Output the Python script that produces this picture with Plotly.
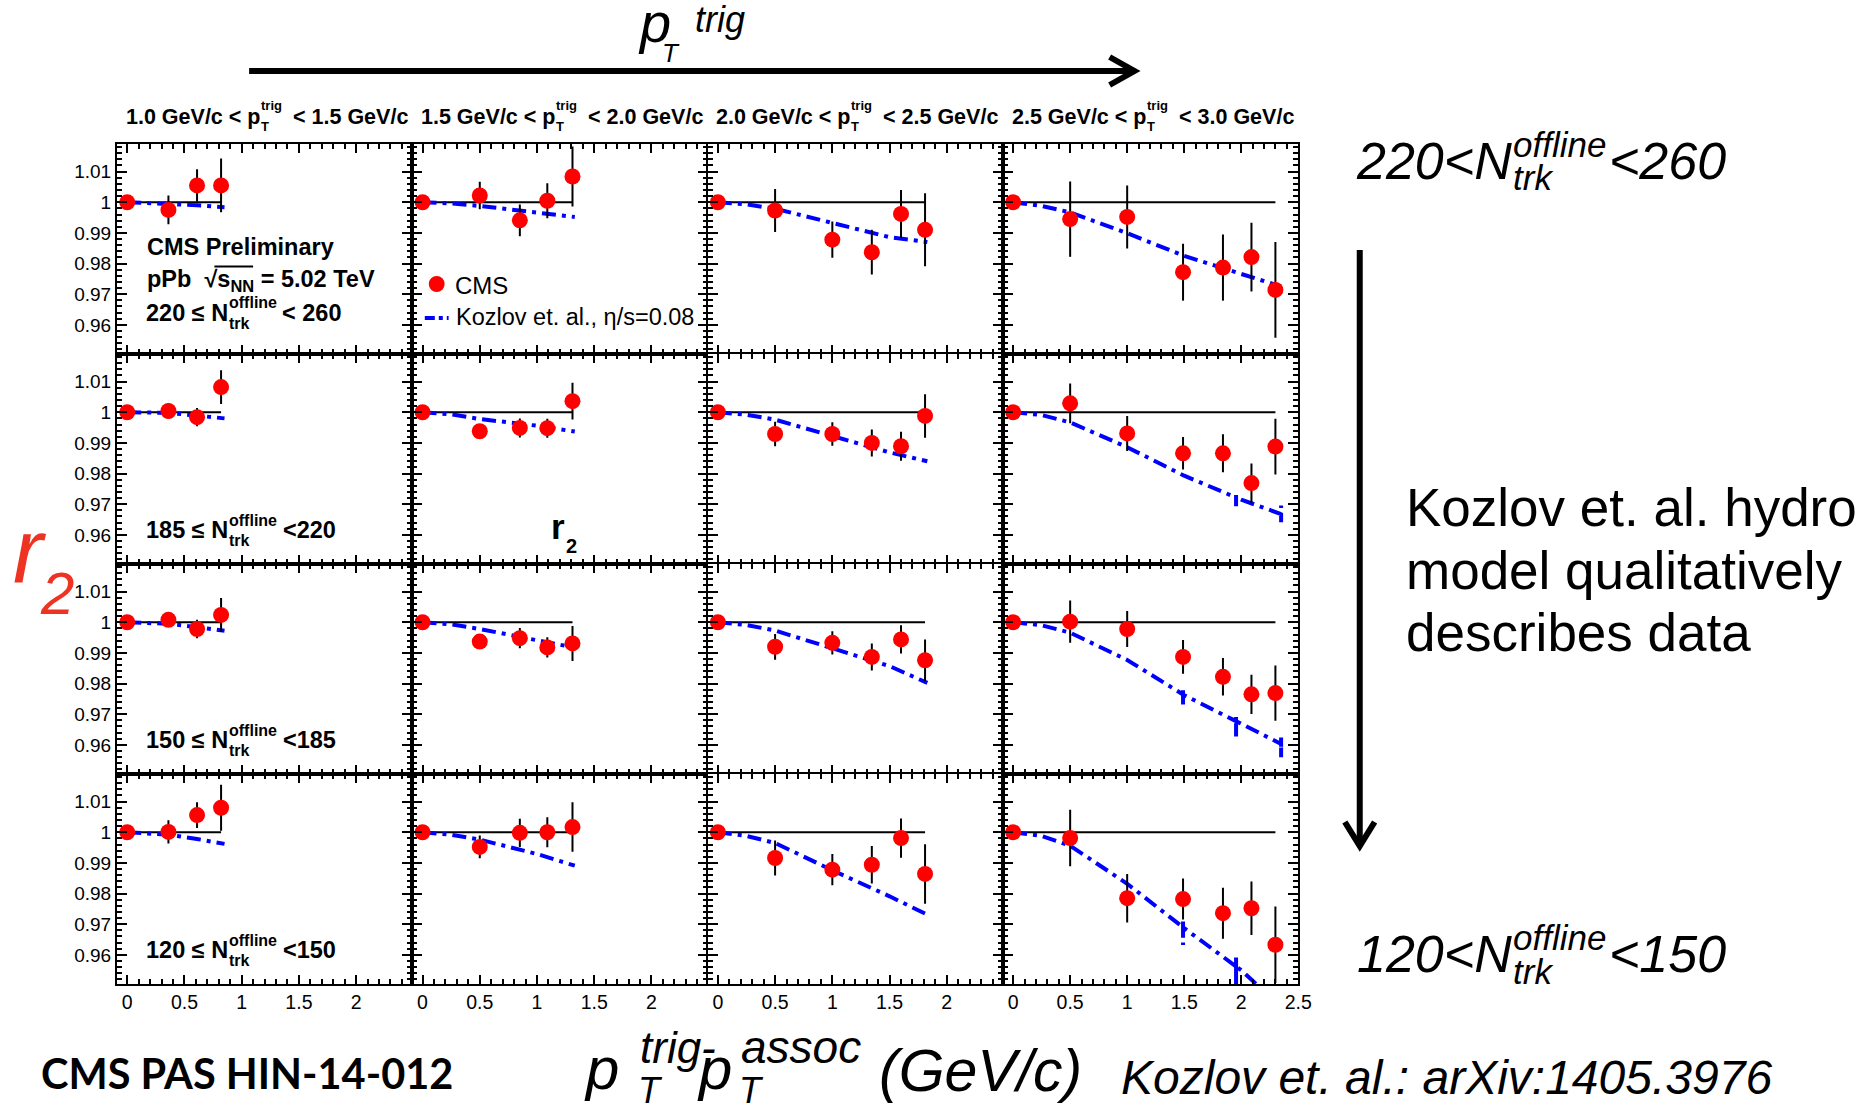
import numpy as np
import plotly.graph_objects as go

W, H = 1870, 1104

# <pT^trig> - <pT^assoc> of the CMS points, one list per pT^trig bin (columns)
cms_x = [
    [0.0, 0.36, 0.61, 0.82],
    [0.0, 0.50, 0.85, 1.09, 1.31],
    [0.0, 0.50, 1.00, 1.345, 1.60, 1.81],
    [0.0, 0.50, 1.00, 1.49, 1.84, 2.09, 2.30],
]

# r2 and its uncertainty for each multiplicity class (rows), per pT^trig bin
r2_220_260 = [
    [1.0, 0.9975, 1.0055, 1.0055],
    [1.0, 1.0022, 0.9941, 1.0005, 1.0084],
    [1.0, 0.9973, 0.9878, 0.9837, 0.9962, 0.9910],
    [1.0, 0.9945, 0.9952, 0.9772, 0.9787, 0.9821, 0.9714],
]
err_220_260 = [
    [0.0, 0.0047, 0.0053, 0.0088],
    [0.0, 0.0045, 0.0052, 0.0057, 0.0098],
    [0.0, 0.0070, 0.0059, 0.0073, 0.0078, 0.0119],
    [0.0, 0.0123, 0.0103, 0.0093, 0.0108, 0.0112, 0.0156],
]
r2_185_220 = [
    [1.0, 1.0004, 0.9984, 1.0082],
    [1.0, 0.9938, 0.9949, 0.9948, 1.0036],
    [1.0, 0.9929, 0.9929, 0.9900, 0.9889, 0.9988],
    [1.0, 1.0029, 0.9931, 0.9866, 0.9866, 0.9769, 0.9888],
]
err_185_220 = [
    [0.0, 0.0025, 0.0030, 0.0055],
    [0.0, 0.0018, 0.0031, 0.0031, 0.0060],
    [0.0, 0.0040, 0.0038, 0.0044, 0.0047, 0.0071],
    [0.0, 0.0065, 0.0057, 0.0053, 0.0062, 0.0064, 0.0091],
]
r2_150_185 = [
    [1.0, 1.0008, 0.9978, 1.0024],
    [1.0, 0.9937, 0.9948, 0.9918, 0.9931],
    [1.0, 0.9920, 0.9933, 0.9887, 0.9944, 0.9876],
    [1.0, 1.0002, 0.9978, 0.9887, 0.9822, 0.9765, 0.9769],
]
err_150_185 = [
    [0.0, 0.0020, 0.0030, 0.0055],
    [0.0, 0.0018, 0.0033, 0.0033, 0.0057],
    [0.0, 0.0042, 0.0038, 0.0044, 0.0046, 0.0068],
    [0.0, 0.0069, 0.0059, 0.0055, 0.0061, 0.0064, 0.0090],
]
r2_120_150 = [
    [1.0, 1.0001, 1.0056, 1.0080],
    [1.0, 0.9952, 0.9998, 1.0000, 1.0017],
    [1.0, 0.9916, 0.9878, 0.9894, 0.9981, 0.9864],
    [1.0, 0.9981, 0.9785, 0.9782, 0.9736, 0.9752, 0.9633],
]
err_120_150 = [
    [0.0, 0.0038, 0.0042, 0.0075],
    [0.0, 0.0037, 0.0046, 0.0049, 0.0081],
    [0.0, 0.0057, 0.0051, 0.0061, 0.0064, 0.0097],
    [0.0, 0.0092, 0.0079, 0.0067, 0.0083, 0.0087, 0.0125],
]

# Kozlov et al. hydro curves (eta/s = 0.08)
model_x = [
    [0.0, 0.36, 0.61, 0.85],
    [0.0, 0.25, 0.50, 1.00, 1.33],
    [0.0, 0.25, 0.50, 1.00, 1.50, 1.83],
    [0.0, 0.25, 0.50, 1.00, 1.50, 2.00, 2.35],
]
model_220_260 = [
    [1.0, 0.9996, 0.9990, 0.9984],
    [1.0, 0.9996, 0.9988, 0.9965, 0.9952],
    [1.0, 0.9993, 0.9979, 0.9932, 0.9886, 0.9870],
    [1.0, 0.9988, 0.9967, 0.9899, 0.9825, 0.9768, 0.9725],
]
model_185_220 = [
    [1.0, 0.9998, 0.9989, 0.9980],
    [1.0, 0.9993, 0.9978, 0.9956, 0.9937],
    [1.0, 0.9992, 0.9976, 0.9924, 0.9869, 0.9840],
    [1.0, 0.9991, 0.9967, 0.9886, 0.9793, 0.9715, 0.9668],
]
model_150_185 = [
    [1.0, 0.9995, 0.9984, 0.9972],
    [1.0, 0.9993, 0.9978, 0.9942, 0.9917],
    [1.0, 0.9991, 0.9973, 0.9915, 0.9857, 0.9802],
    [1.0, 0.9990, 0.9966, 0.9877, 0.9762, 0.9669, 0.9603],
]
model_120_150 = [
    [1.0, 0.9992, 0.9978, 0.9962],
    [1.0, 0.9992, 0.9976, 0.9929, 0.9891],
    [1.0, 0.9988, 0.9965, 0.9876, 0.9791, 0.9731],
    [1.0, 0.9988, 0.9956, 0.9832, 0.9687, 0.9550, 0.9430],
]
# vertical excursions of the hydro curve in the highest pT^trig bin: (x, y_top, y_bottom)
kinks_220_260 = []
kinks_185_220 = [(1.955, 0.9730, 0.9690), (2.35, 0.9696, 0.9641)]
kinks_150_185 = [(1.49, 0.9778, 0.9724), (1.955, 0.9691, 0.9627), (2.35, 0.9631, 0.9560)]
kinks_120_150 = [(1.49, 0.9715, 0.9632), (1.955, 0.9600, 0.9400)]

trig_bins = [("1.0", "1.5"), ("1.5", "2.0"), ("2.0", "2.5"), ("2.5", "3.0")]
mult_bins = [("220", "260"), ("185", "220"), ("150", "185"), ("120", "150")]

y_tickvals = [0.96, 0.97, 0.98, 0.99, 1.0, 1.01]
y_ticktext = ["0.96", "0.97", "0.98", "0.99", "1", "1.01"]
x_tickvals = [0, 0.5, 1, 1.5, 2, 2.5]
x_ticktext = ["0", "0.5", "1", "1.5", "2", "2.5"]

rows = [
    (r2_220_260, err_220_260, model_220_260, kinks_220_260),
    (r2_185_220, err_185_220, model_185_220, kinks_185_220),
    (r2_150_185, err_150_185, model_150_185, kinks_150_185),
    (r2_120_150, err_120_150, model_120_150, kinks_120_150),
]

FONT = "Liberation Sans, Arial, Helvetica, sans-serif"
RED = "#FF0000"
BLUE = "#0000FF"
DASHDOT = "14px,6px,4px,6px"

# frame of the 4x4 grid in pixels
GX0, GX1 = 117.8, 1308.0
GY0, GY1 = 144.0, 984.0
CW = (GX1 - GX0) / 4
RH = (GY1 - GY0) / 4


def px(x):
    return x / W


def py(y):
    return 1 - y / H


def with_kinks(mx, my, kinks):
    """Insert vertical excursions into a model curve at the given x values."""
    pts = [(x, y, 0) for x, y in zip(mx, my)]
    for kx, ktop, kbot in kinks:
        yc = float(np.interp(kx, mx, my))
        pts += [(kx, yc, 1), (kx, ktop, 2), (kx, kbot, 3), (kx, yc, 4)]
    pts.sort(key=lambda p: (p[0], p[2]))
    return [p[0] for p in pts], [p[1] for p in pts]


fig = go.Figure()
layout_axes = {}

for r, (r2, err, model, kinks) in enumerate(rows):
    for c in range(4):
        k = r * 4 + c + 1
        xa = "x" if k == 1 else f"x{k}"
        ya = "y" if k == 1 else f"y{k}"
        xs = cms_x[c]

        # unity reference line over the measured range
        fig.add_trace(go.Scatter(
            x=[0, xs[-1]], y=[1, 1], mode="lines",
            line=dict(color="black", width=2), xaxis=xa, yaxis=ya,
            hoverinfo="skip"))

        # hydro curve
        mx, my = model_x[c], model[c]
        if c == 3 and kinks:
            mx, my = with_kinks(mx, my, kinks)
        fig.add_trace(go.Scatter(
            x=mx, y=my, mode="lines",
            line=dict(color=BLUE, width=4, dash=DASHDOT),
            xaxis=xa, yaxis=ya, hoverinfo="skip"))

        # CMS points
        fig.add_trace(go.Scatter(
            x=xs, y=r2[c], mode="markers",
            marker=dict(color=RED, size=16, line=dict(width=0)),
            error_y=dict(type="data", array=err[c], color="black",
                         thickness=2, width=0),
            xaxis=xa, yaxis=ya))

        x0 = GX0 + c * CW
        y0 = GY0 + r * RH
        xmax = 2.5 if c == 3 else 2.49
        nx = 6 if c == 3 else 5
        layout_axes["xaxis" if k == 1 else f"xaxis{k}"] = dict(
            domain=[px(x0), px(x0 + CW)], anchor=ya,
            range=[-0.09, xmax], showgrid=False, zeroline=False,
            showline=True, linecolor="black", linewidth=2, mirror="ticks",
            ticks="inside", ticklen=9, tickwidth=2, tickcolor="black",
            tickmode="array", tickvals=x_tickvals[:nx], ticktext=x_ticktext[:nx],
            showticklabels=(r == 3),
            tickfont=dict(family=FONT, size=19.5, color="black"),
            minor=dict(ticks="inside", ticklen=5, tickwidth=1.5,
                       tickcolor="black", showgrid=False,
                       tickvals=[round(v, 2) for v in np.arange(0, 2.51, 0.1)]),
        )
        layout_axes["yaxis" if k == 1 else f"yaxis{k}"] = dict(
            domain=[py(y0 + RH), py(y0)], anchor=xa,
            range=[0.9505, 1.019], showgrid=False, zeroline=False,
            showline=True, linecolor="black", linewidth=2, mirror="ticks",
            ticks="inside", ticklen=10, tickwidth=2, tickcolor="black",
            tickmode="array", tickvals=y_tickvals, ticktext=y_ticktext,
            showticklabels=(c == 0),
            tickfont=dict(family=FONT, size=19, color="black"),
            minor=dict(ticks="inside", ticklen=5, tickwidth=1.5,
                       tickcolor="black", showgrid=False,
                       tickvals=[round(v, 3) for v in np.arange(0.952, 1.019, 0.002)]),
        )

annotations = []
shapes = []


def txt(x, y, text, size, anchor="left", weight="normal", style="normal",
        color="black", family=FONT):
    annotations.append(dict(
        x=px(x), y=py(y), xref="paper", yref="paper", text=text,
        showarrow=False, xanchor=anchor, yanchor="middle", borderpad=0,
        font=dict(family=family, size=size, color=color, weight=weight,
                  style=style)))


def stacked(x_split, y_mid, left, sup, sub, right, size, sub_size, right_x,
            dy_sup, dy_sub, weight="normal", style="normal"):
    txt(x_split, y_mid, left, size, anchor="right", weight=weight, style=style)
    txt(x_split - 1, y_mid - dy_sup, sup, sub_size, weight=weight, style=style)
    txt(x_split - 1, y_mid + dy_sub, sub, sub_size, weight=weight, style=style)
    txt(right_x, y_mid, right, size, weight=weight, style=style)


def seg(xa, ya, xb, yb, color="black", width=2, dash=None):
    line = dict(color=color, width=width)
    if dash:
        line["dash"] = dash
    shapes.append(dict(type="line", xref="paper", yref="paper",
                       x0=px(xa), x1=px(xb), y0=py(ya), y1=py(yb), line=line))


# pT^trig bin titles above each column
for c, (lo, hi) in enumerate(trig_bins):
    x0 = GX0 + c * CW
    stacked(x0 + 145, 116.7, f"{lo} GeV/c < p", "trig", "T",
            f"< {hi} GeV/c", 21.5, 13, x0 + 176, 11, 10, weight="bold")

# header block in the first panel
txt(147, 247, "CMS Preliminary", 23.5, weight="bold")
txt(147, 280, "pPb\u00a0\u00a0√s<sub>NN</sub> = 5.02 TeV", 23.5, weight="bold")
seg(216, 266.5, 255, 266.5, width=2)

# multiplicity class labels inside the first column
label_y = [313, 530, 740, 950]
for r, (lo, hi) in enumerate(mult_bins):
    right = f"< {hi}" if r == 0 else f"<{hi}"
    stacked(231, label_y[r], f"{lo} ≤ N", "offline", "trk", right,
            23.5, 16, 283 if r == 0 else 284, 10, 10, weight="bold")

# legend
shapes.append(dict(type="circle", xref="paper", yref="paper",
                   x0=px(432), x1=px(448), y0=py(292), y1=py(276),
                   fillcolor=RED, line=dict(width=0)))
seg(428, 318, 452, 318, color=BLUE, width=4, dash="10px,4px,4px,4px")
txt(457, 285, "CMS", 24)
txt(458, 317, "Kozlov et. al., η/s=0.08", 23.5)

# r2 marker in the second panel
txt(562, 526, "r", 35, anchor="center", weight="bold")
txt(569, 546, "2", 20, weight="bold")

# big r2 axis label
txt(30, 551, "r", 90, anchor="center", style="italic", color="#EE3322")
txt(57, 593, "2", 60, anchor="center", style="italic", color="#EE3322")

# top pT^trig arrow
txt(642, 22.5, "p", 56, style="italic")
txt(699, 20, "trig", 36, style="italic")
txt(666, 53, "T", 26, style="italic")
seg(251, 71, 1140, 71, width=6)
shapes.append(dict(type="path", xref="paper", yref="paper",
                   path=f"M {px(1118)},{py(57)} L {px(1143)},{py(71)} L {px(1118)},{py(85)}",
                   line=dict(color="black", width=6)))

# multiplicity arrow on the right
seg(1370, 250, 1370, 843, width=6)
shapes.append(dict(type="path", xref="paper", yref="paper",
                   path=f"M {px(1355)},{py(822)} L {px(1370)},{py(846)} L {px(1385)},{py(822)}",
                   line=dict(color="black", width=6)))

# right-hand multiplicity labels
stacked(1524, 161, "220<N", "offline", "trk", "<260", 52, 35, 1620, 17, 17,
        style="italic")
stacked(1524, 954, "120<N", "offline", "trk", "<150", 52, 35, 1620, 17, 17,
        style="italic")

# comment on the right
txt(1416, 507, "Kozlov et. al. hydro", 53)
txt(1416, 570, "model qualitatively", 53)
txt(1416, 632, "describes data", 53)

# bottom row of text
txt(40, 1073, "CMS PAS HIN-14-012", 41.5, weight="bold",
    family="Lato, Liberation Sans, sans-serif")
txt(587, 1068, "p", 60, style="italic")
txt(644, 1047, "trig-", 44, style="italic")
txt(642, 1090, "T", 36, style="italic")
txt(701, 1068, "p", 60, style="italic")
txt(746, 1047, "assoc", 46, style="italic")
txt(744, 1090, "T", 36, style="italic")
txt(885, 1071, "(GeV/c)", 59, style="italic")
txt(1128, 1077, "Kozlov et. al.: arXiv:1405.3976", 48, style="italic")

fig.update_layout(
    width=W, height=H, autosize=False,
    margin=dict(l=0, r=0, t=0, b=0),
    paper_bgcolor="white", plot_bgcolor="white",
    showlegend=False,
    annotations=annotations, shapes=shapes,
    **layout_axes,
)

fig.write_html(
    "out.html",
    config={"displayModeBar": False},
    post_script=("document.body.style.margin='0';"
                 "document.body.style.overflow='hidden';"
                 "document.documentElement.style.overflow='hidden';"),
)
